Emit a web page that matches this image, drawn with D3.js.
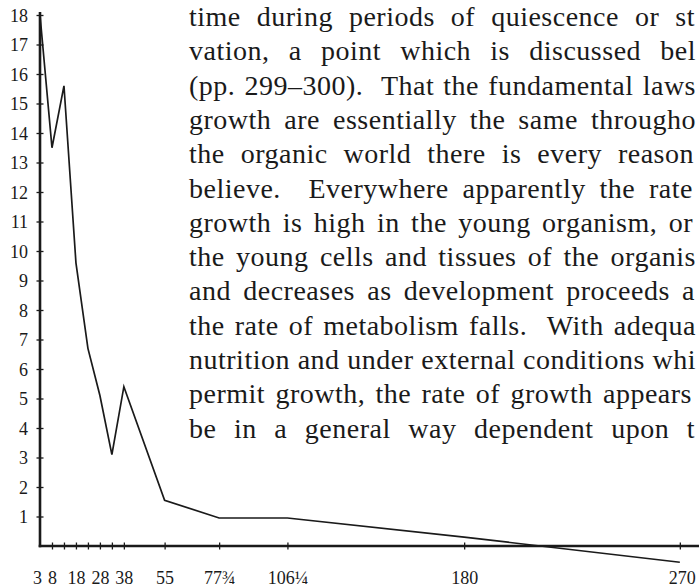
<!DOCTYPE html>
<html>
<head>
<meta charset="utf-8">
<script src="https://cdn.jsdelivr.net/npm/d3@7"></script>
<style>
  html, body { margin: 0; padding: 0; background: #fff; }
  svg { display: block; }
</style>
</head>
<body>
<svg id="chart" width="699" height="587"></svg>
<script>
// Age (days) against rate of growth
const ages  = [3, 8, 13, 18, 23, 28, 33, 38, 55, 77.75, 106.25, 180, 270];
const rates = [18, 13.5, 15.6, 9.6, 6.7, 5.1, 3.1, 5.4, 1.55, 0.95, 0.95, 0.3, -0.55];

const xTickValues  = [8, 13, 18, 23, 28, 33, 38, 55, 77.75, 106.25, 180, 270];
const xLabelValues = [3, 8, 18, 28, 38, 55, 77.75, 106.25, 180, 270];
const xLabelText   = ["3", "8", "18", "28", "38", "55", "77¾", "106¼", "180", "270"];
const yTickValues  = d3.range(1, 19);

// running text beside the figure, as far as the page edge shows it
const textLines = [
  "time during periods of quiescence or st",
  "vation, a point which is discussed bel",
  "(pp. 299–300).  That the fundamental laws",
  "growth are essentially the same througho",
  "the organic world there is every reason",
  "believe.  Everywhere apparently the rate",
  "growth is high in the young organism, or",
  "the young cells and tissues of the organis",
  "and decreases as development proceeds a",
  "the rate of metabolism falls.  With adequa",
  "nutrition and under external conditions whi",
  "permit growth, the rate of growth appears",
  "be in a general way dependent upon t"
];
// right end of each line
const lineEnds = [695, 696, 696, 696, 694, 693, 693, 696, 695, 696, 696, 692, 695];

const svg = d3.select("#chart");
const ink = "#1a1a1a";
const serif = "'Liberation Serif', 'DejaVu Serif', serif";

const x = d3.scaleLinear().domain([3, 278]).range([40, 699]);
const y = d3.scaleLinear().domain([0, 18]).range([546, 15]);

// ---- text column ----
const colX = 189, lineGap = 34.3, firstBase = 26;
const textG = svg.append("g")
  .attr("font-family", serif)
  .attr("font-size", 28)
  .attr("letter-spacing", 0.5)
  .attr("fill", ink);

textLines.forEach((line, i) => {
  const t = textG.append("text")
    .attr("x", colX)
    .attr("y", firstBase + i * lineGap)
    .attr("xml:space", "preserve")
    .style("white-space", "pre")
    .text(line);
  const natural = t.node().getComputedTextLength();
  const gaps = (line.match(/ /g) || []).length;
  if (gaps > 0) t.attr("word-spacing", (lineEnds[i] - colX - natural) / gaps);
});

// ---- y axis ----
const yAxis = d3.axisLeft(y).tickValues(yTickValues).tickSizeOuter(0).tickFormat(d3.format("d"));
const yG = svg.append("g").attr("transform", `translate(${x(3)},0)`).call(yAxis);
yG.select(".domain").remove();
yG.selectAll(".tick line").attr("x1", -3.5).attr("x2", 3.5).attr("stroke", ink).attr("stroke-width", 1.3);
yG.selectAll(".tick text")
  .attr("x", -12)
  .attr("dy", "0.36em")
  .attr("font-family", serif)
  .attr("font-size", 18)
  .attr("fill", ink);

svg.append("line")
  .attr("x1", x(3)).attr("x2", x(3))
  .attr("y1", y(18) - 3).attr("y2", y(0) + 1.2)
  .attr("stroke", ink).attr("stroke-width", 2.6);

// ---- x axis ----
const xAxis = d3.axisBottom(x).tickValues(xTickValues).tickSizeOuter(0).tickFormat("");
const xG = svg.append("g").attr("transform", `translate(0,${y(0)})`).call(xAxis);
xG.select(".domain").remove();
xG.selectAll(".tick line").attr("y1", -3.5).attr("y2", 3.5).attr("stroke", ink).attr("stroke-width", 1.3);

svg.append("line")
  .attr("x1", x(3) - 1.3).attr("x2", 699)
  .attr("y1", y(0)).attr("y2", y(0))
  .attr("stroke", ink).attr("stroke-width", 2.6);

const xLab = d3.axisBottom(x).tickValues(xLabelValues).tickSize(0)
  .tickFormat((d, i) => xLabelText[i]);
const xLG = svg.append("g").attr("transform", `translate(0,${y(0)})`).call(xLab);
xLG.select(".domain").remove();
xLG.selectAll(".tick text")
  .attr("y", 38)
  .attr("dy", 0)
  .attr("font-family", serif)
  .attr("font-size", 18)
  .attr("fill", ink)
  .attr("dx", d => d === 3 ? -3 : (d === 270 ? 2 : 0));

// ---- growth-rate curve ----
const pts = ages.map((a, i) => [a, rates[i]]);
svg.append("path")
  .datum(pts)
  .attr("fill", "none")
  .attr("stroke", ink)
  .attr("stroke-width", 1.7)
  .attr("stroke-linejoin", "miter")
  .attr("d", d3.line().x(d => x(d[0])).y(d => y(d[1])));
</script>
</body>
</html>
